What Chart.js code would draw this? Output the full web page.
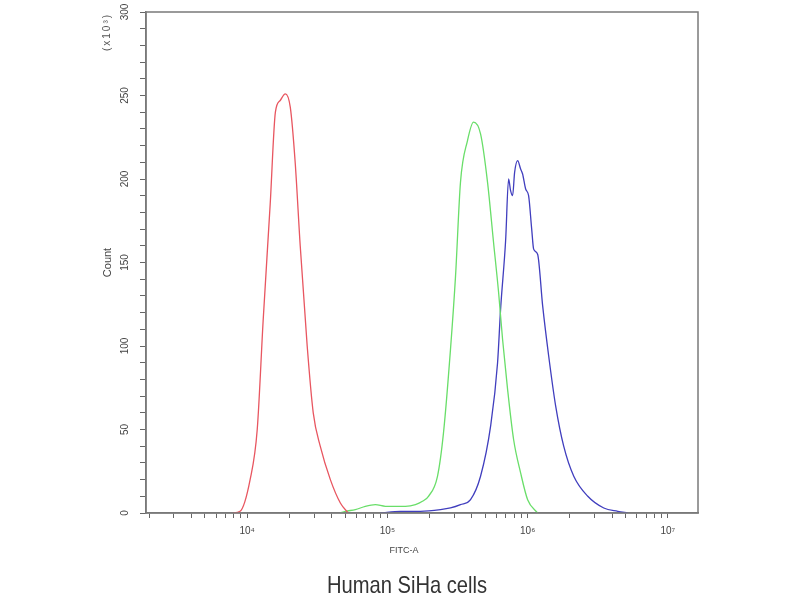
<!DOCTYPE html>
<html>
<head>
<meta charset="utf-8">
<script src="https://cdn.jsdelivr.net/npm/chart.js@4/dist/chart.umd.min.js"></script>
<style>
  html, body { margin: 0; padding: 0; background: #fff; }
</style>
</head>
<body>
<canvas id="flowChart" width="800" height="600"></canvas>
<script>
// FITC-A intensity (x) and event count in thousands (y)
const redX = [7900, 8900, 10500, 11800, 13000, 14600, 15900, 17200, 18700, 20300, 22000, 23900, 26800, 29600, 33200, 39200, 46200, 52600];
const redY = [0, 1, 20, 50, 115, 185, 240, 247, 251, 243, 210, 160, 100, 60, 40, 20, 6, 0];

const greenX = [46100, 50100, 59100, 69600, 82100, 96800, 114000, 134500, 158500, 177800, 196300, 227600, 251200, 281800, 306200, 332000, 372600, 411300, 461600, 517800, 571500, 620900, 662600, 719600, 794300, 891300, 1000000, 1178000];
const greenY = [0, 1, 2, 4, 5, 4, 4, 4, 5, 7, 10, 22, 48, 98, 142, 198, 223, 234, 227, 198, 162, 132, 104, 74, 44, 24, 8, 0];

const blueX = [89100, 123900, 172000, 239300, 281800, 332000, 391700, 461600, 544500, 610500, 641500, 696600, 731700, 756000, 781500, 807600, 848700, 891300, 920900, 967900, 1016000, 1069000, 1104000, 1178000, 1280000, 1413000, 1585000, 1808000, 2133000, 2685000, 3491000, 4395000, 5176000];
const blueY = [0, 1, 1, 2, 3, 5, 8, 22, 52, 90, 122, 163, 200, 193, 190, 204, 211, 206, 203, 194, 190, 170, 158, 155, 124, 94, 64, 40, 22, 10, 3, 1, 0];

const xMin = 1900;
const xMax = 16400000;
const xDecades = [1e3, 1e4, 1e5, 1e6, 1e7];
const decadeLabels = { 10000: '10\u2074', 100000: '10\u2075', 1000000: '10\u2076', 10000000: '10\u2077' };
const yMax = 300;
const yTitle = 'Count';
const yUnit = '(x10\u00b3)';
const xTitle = 'FITC-A';
const chartTitle = 'Human SiHa cells';

function toPoints(xs, ys) {
  return xs.map((x, i) => ({ x: x, y: ys[i] }));
}

// log ticks 2..9 x 10^n plus the decades, inside the axis range
function logTicks() {
  const out = [];
  xDecades.forEach(d => {
    for (let k = 1; k <= 9; k++) {
      const v = d * k;
      if (v >= xMin && v <= xMax) out.push({ value: v, major: k === 1 });
    }
  });
  return out;
}

const frame = {
  id: 'frame',
  afterDraw(chart) {
    const { ctx, chartArea: a } = chart;
    ctx.save();
    ctx.strokeStyle = '#7a7a7a';
    ctx.lineWidth = 1.5;
    ctx.strokeRect(a.left, a.top, a.right - a.left, a.bottom - a.top);
    ctx.restore();

    // multiplier note at the top of the y axis
    ctx.save();
    ctx.fillStyle = '#555';
    ctx.font = '10px "Liberation Sans", Arial, sans-serif';
    ctx.letterSpacing = '2px';
    ctx.translate(107, 32);
    ctx.rotate(-Math.PI / 2);
    ctx.textAlign = 'center';
    ctx.textBaseline = 'middle';
    ctx.fillText(yUnit, 0, 0);
    ctx.restore();

    // caption under the plot, in a narrow face
    ctx.save();
    ctx.fillStyle = '#333';
    ctx.font = '24px "Liberation Sans", Arial, sans-serif';
    ctx.translate(407, 586);
    ctx.scale(0.84, 1);
    ctx.textAlign = 'center';
    ctx.textBaseline = 'middle';
    ctx.fillText(chartTitle, 0, 0);
    ctx.restore();
  }
};

const ctx = document.getElementById('flowChart').getContext('2d');
new Chart(ctx, {
  type: 'line',
  data: {
    datasets: [
      { label: 'red', data: toPoints(redX, redY), borderColor: 'rgb(232,86,96)' },
      { label: 'green', data: toPoints(greenX, greenY), borderColor: 'rgb(105,222,105)' },
      { label: 'blue', data: toPoints(blueX, blueY), borderColor: 'rgb(64,62,190)' }
    ]
  },
  options: {
    responsive: false,
    animation: false,
    devicePixelRatio: 1,
    layout: { padding: { left: 0, top: 11, right: 102, bottom: 30 } },
    elements: {
      point: { radius: 0 },
      line: { borderWidth: 1.3, cubicInterpolationMode: 'monotone', fill: false }
    },
    plugins: {
      legend: { display: false },
      tooltip: { enabled: false },
      title: { display: false }
    },
    scales: {
      x: {
        type: 'logarithmic',
        min: xMin,
        max: xMax,
        afterBuildTicks(scale) { scale.ticks = logTicks(); },
        afterFit(scale) { scale.height = 57; },
        grid: { drawOnChartArea: false, drawTicks: true, tickLength: 5, color: '#666', tickColor: '#666' },
        border: { display: true, color: '#7a7a7a', width: 1.5 },
        ticks: {
          autoSkip: false,
          maxRotation: 0,
          padding: 7,
          color: '#444',
          font: { family: '"Liberation Sans", Arial, sans-serif', size: 10 },
          callback(value) { return decadeLabels[value] || ''; }
        },
        title: {
          display: true,
          text: xTitle + '\u2003\u2003\u2003\u2003',
          color: '#444',
          font: { family: '"Liberation Sans", Arial, sans-serif', size: 9 },
          padding: { top: 0, bottom: 14 }
        }
      },
      y: {
        type: 'linear',
        min: 0,
        max: yMax,
        afterFit(scale) { scale.width = 146; },
        grid: { drawOnChartArea: false, drawTicks: true, tickLength: 6, color: '#666', tickColor: '#666' },
        border: { display: true, color: '#7a7a7a', width: 1.5 },
        ticks: {
          stepSize: 10,
          autoSkip: false,
          minRotation: 90,
          maxRotation: 90,
          crossAlign: 'center',
          padding: 6,
          color: '#444',
          font: { family: '"Liberation Sans", Arial, sans-serif', size: 10 },
          callback(value) { return value % 50 === 0 ? String(value) : ''; }
        },
        title: {
          display: true,
          text: yTitle,
          color: '#444',
          font: { family: '"Liberation Sans", Arial, sans-serif', size: 11 },
          padding: { top: 101, bottom: 0 }
        }
      }
    }
  },
  plugins: [frame]
});
</script>
</body>
</html>
